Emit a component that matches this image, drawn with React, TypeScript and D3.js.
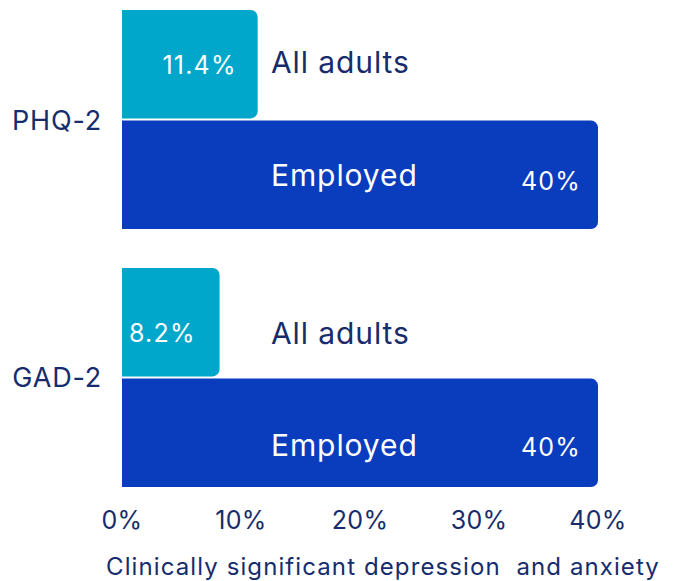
import React from "react";
import * as d3 from "d3";

const groups = ["PHQ-2", "GAD-2"];
const series = ["All adults", "Employed"];
const allAdultsValues = [11.4, 8.2];
const employedValues = [40, 40];
const valueLabels = [["11.4%", "40%"], ["8.2%", "40%"]];
const xTicks = [0, 10, 20, 30, 40];
const axisTitle = "Clinically significant depression  and anxiety";

const W = 677;
const H = 581;
const NAVY = "#172C6C";
const TEAL = "#00A7CA";
const BLUE = "#0A3CBE";
const FONT = "Inter, 'Noto Sans', sans-serif";

// layout tweaks (per group, per series): baseline offsets from bar centre
const labelDy = [[9, 11], [22, 23]];
const valueDy = [[10, 15], [20, 23]];

function roundRightRect(x0: number, y0: number, w: number, h: number, r: number) {
  const rr = Math.min(r, w / 2, h / 2);
  const p = d3.path();
  p.moveTo(x0, y0);
  p.lineTo(x0 + w - rr, y0);
  p.arcTo(x0 + w, y0, x0 + w, y0 + rr, rr);
  p.lineTo(x0 + w, y0 + h - rr);
  p.arcTo(x0 + w, y0 + h, x0 + w - rr, y0 + h, rr);
  p.lineTo(x0, y0 + h);
  p.closePath();
  return p.toString();
}

export default function App() {
  const x = d3.scaleLinear().domain([0, 40]).range([122, 598]);
  const y0 = d3.scaleBand<string>().domain(groups).range([10, 487]).paddingInner(0.151).paddingOuter(0);
  const y1 = d3.scaleBand<string>().domain(series).range([0, y0.bandwidth()]).paddingInner(0.02).paddingOuter(0);
  const seriesValues = [allAdultsValues, employedValues];
  const colors = [TEAL, BLUE];

  return (
    <svg width={W} height={H} style={{ position: "absolute", left: 0, top: 0, fontFamily: FONT }}>
      <rect x={0} y={0} width={W} height={H} fill="#fff" />
      {groups.map((g, gi) => (
        <g key={g}>
          {series.map((s, si) => {
            const v = seriesValues[si][gi];
            const top = (y0(g) as number) + (y1(s) as number);
            const h = y1.bandwidth();
            const xe = x(v);
            const cy = top + h / 2;
            const leftAligned = v < 10;
            return (
              <g key={s}>
                <path d={roundRightRect(x(0), top, xe - x(0), h, 7)} fill={colors[si]} />
                <text
                  x={x(0) + 149}
                  y={cy + labelDy[gi][si]}
                  fontSize={30}
                  letterSpacing={0.9}
                  fill={si === 1 ? "#fff" : NAVY}
                >
                  {s}
                </text>
                <text
                  x={leftAligned ? x(0) + 7 : xe - (si === 1 ? 17 : 21)}
                  y={cy + valueDy[gi][si]}
                  fontSize={25}
                  letterSpacing={1.2}
                  fill="#fff"
                  textAnchor={leftAligned ? "start" : "end"}
                >
                  {valueLabels[gi][si]}
                </text>
              </g>
            );
          })}
          <text
            x={102}
            y={(y0(g) as number) + y0.bandwidth() / 2 + 10}
            fontSize={27}
            letterSpacing={0.8}
            fill={NAVY}
            textAnchor="end"
          >
            {g}
          </text>
        </g>
      ))}
      {xTicks.map((t) => (
        <text key={t} x={x(t)} y={529} fontSize={25} letterSpacing={0.3} fill={NAVY} textAnchor="middle">
          {t + "%"}
        </text>
      ))}
      <text x={383} y={575} fontSize={24} letterSpacing={1.1} fill={NAVY} textAnchor="middle" style={{ whiteSpace: "pre" }}>
        {axisTitle}
      </text>
    </svg>
  );
}
